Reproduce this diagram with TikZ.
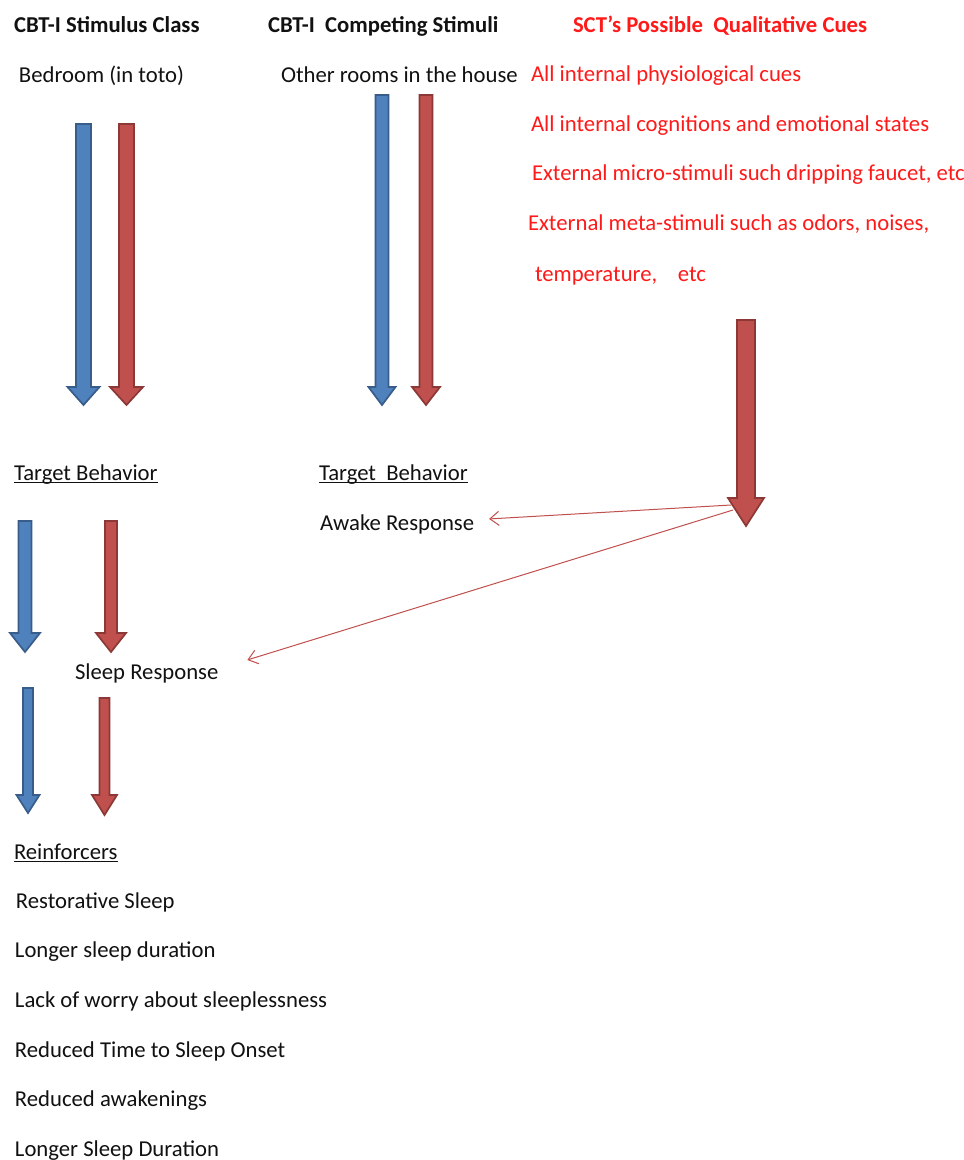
\documentclass[tikz,border=0pt]{standalone}
\usepackage{fontspec}
\setmainfont{Carlito}
\usetikzlibrary{arrows.meta}
\definecolor{bfill}{HTML}{4F81BD}
\definecolor{bline}{HTML}{385D8A}
\definecolor{rfill}{HTML}{C0504D}
\definecolor{rline}{HTML}{8C3836}
\definecolor{cuered}{HTML}{FF1A1A}
\definecolor{txt}{HTML}{111111}
\newcommand{\barrow}[7]{%
  \draw[#1] ({#2-#5},#3) -- ({#2+#5},#3) -- ({#2+#5},{#4-#7}) -- ({#2+#6},{#4-#7}) -- (#2,#4) -- ({#2-#6},{#4-#7}) -- ({#2-#5},{#4-#7}) -- cycle;}
\begin{document}
\begin{tikzpicture}[x=1pt,y=-1pt,
  lbl/.style={anchor=base west,inner sep=0pt,outer sep=0pt,text=txt,font=\fontsize{22.7}{27}\selectfont},
  hdr/.style={lbl,font=\fontsize{22.7}{27}\selectfont\bfseries},
  cue/.style={lbl,text=cuered},
  bluearrow/.style={fill=bfill,draw=bline,line width=1.7pt,line join=miter},
  redarrow/.style={fill=rfill,draw=rline,line width=1.7pt,line join=miter},
  thin/.style={draw=rfill,line width=1pt,-{Straight Barb[length=9pt,width=14pt,line width=1pt]}},
  uline/.style={line width=1.3pt,draw=txt}]
\useasboundingbox (0,0) rectangle (964,1160);
\fill[white] (0,0) rectangle (964,1160);

% headers
\node[hdr] (h1) at (14,32) {CBT-I Stimulus Class};
\node[hdr] (h2) at (268,32) {CBT-I\ \ Competing Stimuli};
\node[hdr,text=cuered] (h3) at (573,32) {SCT’s Possible\ \ Qualitative Cues};

\node[lbl] (bed) at (19,82) {Bedroom (in toto)};
\node[lbl] (oth) at (281,82) {Other rooms in the house};

\node[cue] (c1) at (531,81) {All internal physiological cues};
\node[cue] (c2) at (531,131) {All internal cognitions and emotional states};
\node[cue] (c3) at (532,180) {External micro-stimuli such dripping faucet, etc};
\node[cue] (c4) at (528,230) {External meta-stimuli such as odors, noises,};
\node[cue] (c5) at (535,281) {temperature,\ \ \ \ etc};

% block arrows
\barrow{bluearrow}{83.5}{124}{405}{7.5}{16}{18}
\barrow{redarrow}{126.5}{124}{405}{7.5}{16.5}{18}
\barrow{bluearrow}{382}{95}{405}{6.5}{13.5}{18}
\barrow{redarrow}{426}{95}{405}{6.5}{14}{18}
\barrow{redarrow}{746}{320}{526}{9}{18}{28}
\barrow{bluearrow}{25}{521}{652}{6.5}{15}{19}
\barrow{redarrow}{111}{521}{652}{6}{15}{19}
\barrow{bluearrow}{28}{688}{813}{5}{11.5}{18}
\barrow{redarrow}{104.5}{698}{815}{5}{12.5}{20}

% target behavior
\node[lbl] (tb1) at (14,480) {Target Behavior};
\draw[uline] ([yshift=-2.5pt]tb1.base west) -- ([yshift=-2.5pt]tb1.base east);
\node[lbl] (tb2) at (319,480) {Target\ \ Behavior};
\draw[uline] ([yshift=-2.5pt]tb2.base west) -- ([yshift=-2.5pt]tb2.base east);

\node[lbl] (awake) at (320,530) {Awake Response};
\node[lbl] (sleep) at (75,679) {Sleep Response};

% thin connectors from the big arrow
\coordinate (s1) at (731,505);
\coordinate (s2) at (733,510);
\draw[thin] (s1) -- ([xshift=15pt,yshift=5pt]awake.east);
\draw[thin] (s2) -- ([xshift=29pt,yshift=13pt]sleep.east);

% reinforcers
\node[lbl] (rf) at (14,859) {Reinforcers};
\draw[uline] ([yshift=-2.5pt]rf.base west) -- ([yshift=-2.5pt]rf.base east);
\node[lbl] (r1) at (16,908) {Restorative Sleep};
\node[lbl] (r2) at (15,957) {Longer sleep duration};
\node[lbl] (r3) at (15,1007) {Lack of worry about sleeplessness};
\node[lbl] (r4) at (15,1057) {Reduced Time to Sleep Onset};
\node[lbl] (r5) at (15,1106) {Reduced awakenings};
\node[lbl] (r6) at (15,1156) {Longer Sleep Duration};
\end{tikzpicture}
\end{document}
